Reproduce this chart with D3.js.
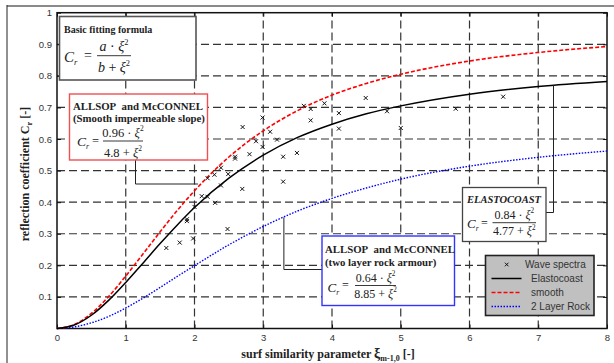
<!DOCTYPE html>
<html>
<head>
<meta charset="utf-8">
<script src="https://cdn.jsdelivr.net/npm/d3@7"></script>
<style>
  html, body { margin: 0; padding: 0; background: #fff; }
  svg { display: block; }
</style>
</head>
<body>
<div class="canvas"></div>
<script>
// Chart values
const xTicks = [0, 1, 2, 3, 4, 5, 6, 7, 8];
const yTicks = [0.1, 0.2, 0.3, 0.4, 0.5, 0.6, 0.7, 0.8, 0.9, 1];
const yTickLabels = ["0.1", "0.2", "0.3", "0.4", "0.5", "0.6", "0.7", "0.8", "0.9", "1"];

const curveX = [0, 0.25, 0.5, 0.75, 1, 1.25, 1.5, 1.75, 2, 2.5, 3, 3.5, 4, 4.5, 5, 6, 7, 8];
const elastocoast = [0, 0.011, 0.042, 0.089, 0.146, 0.207, 0.269, 0.328, 0.383, 0.476, 0.549, 0.605, 0.647, 0.680, 0.705, 0.742, 0.766, 0.782];
const smooth = [0, 0.012, 0.048, 0.101, 0.166, 0.236, 0.306, 0.374, 0.436, 0.543, 0.626, 0.690, 0.739, 0.776, 0.805, 0.847, 0.874, 0.893];
const rock = [0, 0.005, 0.018, 0.038, 0.065, 0.096, 0.130, 0.165, 0.199, 0.265, 0.323, 0.372, 0.412, 0.445, 0.473, 0.514, 0.542, 0.562];

const spectraX = [1.59, 1.785, 1.98, 1.89, 1.89, 2.0, 2.105, 2.19, 2.30, 2.19, 2.29, 2.385, 2.49, 2.385, 2.48,
                  2.695, 2.59, 2.59, 2.80, 2.70, 2.895, 2.99, 2.99, 3.10, 3.20, 3.29, 3.49, 3.29, 3.59, 3.69,
                  3.69, 3.89, 4.10, 4.10, 4.49, 4.80, 5.0, 5.80, 6.49];
const spectraY = [0.255, 0.272, 0.285, 0.346, 0.340, 0.385, 0.419, 0.417, 0.398, 0.476, 0.487, 0.509, 0.489, 0.453, 0.315,
                  0.442, 0.544, 0.538, 0.552, 0.638, 0.593, 0.575, 0.668, 0.623, 0.598, 0.544, 0.556, 0.465, 0.705, 0.695,
                  0.659, 0.713, 0.682, 0.633, 0.730, 0.688, 0.635, 0.696, 0.734];

const legendLabels = ["Wave spectra", "Elastocoast", "smooth", "2 Layer Rock"];

// Setup
const width = 614, height = 363;
const margin = { top: 12.7, right: 7, bottom: 34.5, left: 57 };
const svg = d3.select(".canvas").append("svg")
    .attr("width", width)
    .attr("height", height);

const serif = "'Liberation Serif', 'Times New Roman', serif";
const sans = "'Liberation Sans', Arial, sans-serif";

// figure frame
svg.append("line").attr("x1", 7).attr("x2", 614).attr("y1", 6).attr("y2", 6)
    .attr("stroke", "#8a8a8a").attr("stroke-width", 2);
svg.append("line").attr("x1", 7).attr("x2", 7).attr("y1", 5).attr("y2", 363)
    .attr("stroke", "#222").attr("stroke-width", 1);

const x = d3.scaleLinear().domain([0, 8]).range([margin.left, width - margin.right]);
const y = d3.scaleLinear().domain([0, 1]).range([height - margin.bottom, margin.top]);

// grid
const grid = svg.append("g").attr("stroke", "#333").attr("stroke-width", 1.2)
    .attr("stroke-dasharray", "8,4");
grid.selectAll(".gx").data(xTicks.slice(1, -1)).enter().append("line")
    .attr("x1", d => x(d)).attr("x2", d => x(d))
    .attr("y1", y(0)).attr("y2", y(1));
grid.selectAll(".gy").data(yTicks.slice(0, -1)).enter().append("line")
    .attr("x1", x(0)).attr("x2", x(8))
    .attr("y1", d => y(d)).attr("y2", d => y(d));

// axes
const xAxis = d3.axisBottom(x).tickValues(xTicks).tickSizeInner(-4).tickSizeOuter(0).tickPadding(6);
const yAxis = d3.axisLeft(y).tickValues(yTicks).tickSizeInner(-4).tickSizeOuter(0).tickPadding(5)
    .tickFormat((d, i) => yTickLabels[i]);
const xAxisGroup = svg.append("g").attr("transform", `translate(0, ${y(0)})`).call(xAxis);
const yAxisGroup = svg.append("g").attr("transform", `translate(${x(0)}, 0)`).call(yAxis);
svg.append("g").attr("transform", `translate(0, ${y(1)})`)
    .call(d3.axisTop(x).tickValues(xTicks).tickSizeInner(-4).tickSizeOuter(0).tickFormat(""));
svg.append("g").attr("transform", `translate(${x(8)}, 0)`)
    .call(d3.axisRight(y).tickValues(yTicks).tickSizeInner(-4).tickSizeOuter(0).tickFormat(""));
svg.selectAll(".domain").remove();
svg.selectAll(".tick line").attr("stroke", "#111");
svg.selectAll(".tick text").attr("font-family", sans).attr("font-size", 9.5).attr("fill", "#333");

// plot frame
svg.append("rect")
    .attr("x", x(0)).attr("y", y(1))
    .attr("width", x(8) - x(0)).attr("height", y(0) - y(1))
    .attr("fill", "none").attr("stroke", "#111").attr("stroke-width", 1.5);

// curves
const line = (vals) => d3.line()
    .x((d, i) => x(curveX[i]))
    .y(d => y(d))
    .curve(d3.curveMonotoneX)(vals);

const series = [
    { vals: rock, colour: "#0000ff", dash: "1.5,1.5", w: 1.4 },
    { vals: smooth, colour: "#ff0000", dash: "4,2", w: 1.6 },
    { vals: elastocoast, colour: "#000", dash: null, w: 1.5 }
];
series.forEach(s => {
    svg.append("path").attr("d", line(s.vals))
        .attr("fill", "none").attr("stroke", s.colour)
        .attr("stroke-width", s.w)
        .attr("stroke-dasharray", s.dash);
});

// wave spectra markers
const cross = (g, cx, cy, r) => {
    g.append("path")
        .attr("d", `M${cx - r},${cy - r}L${cx + r},${cy + r}M${cx - r},${cy + r}L${cx + r},${cy - r}`)
        .attr("stroke", "#111").attr("stroke-width", 1).attr("fill", "none");
};
const marks = svg.append("g");
spectraX.forEach((d, i) => cross(marks, x(d), y(spectraY[i]), 2));

// leader lines
const leader = svg.append("g").attr("fill", "none").attr("stroke", "#222").attr("stroke-width", 1);
leader.append("polyline").attr("points", `135.5,160 135.5,184 ${x(2.05)},184`);
leader.append("polyline").attr("points", `546,212.5 553.5,212.5 553.5,${y(0.770)}`);
leader.append("polyline").attr("points", `${x(3.3)},${y(0.352)} ${x(3.3)},269.5 322,269.5`);

// formula helper: C_r = num / den
const formula = (g, o) => {
    const fs = o.size;
    const c = g.append("text").attr("x", o.cx).attr("y", o.cy)
        .attr("font-family", serif).attr("font-size", fs + 1).attr("font-style", "italic").attr("fill", "#222");
    c.append("tspan").text("C");
    c.append("tspan").text("r").attr("font-size", fs * 0.62).attr("dy", 3);
    g.append("text").attr("x", o.eq).attr("y", o.ly + fs * 0.33)
        .attr("font-family", serif).attr("font-size", fs).attr("fill", "#222").text("=");
    const mid = (o.l1 + o.l2) / 2;
    const part = (lead, base) => {
        const t = g.append("text").attr("x", mid).attr("y", base)
            .attr("text-anchor", "middle").attr("font-family", serif)
            .attr("font-size", fs).attr("fill", "#222");
        t.append("tspan").text(lead).attr("font-style", lead.length < 3 ? "italic" : "normal");
        t.append("tspan").text(" \u00b7 ").attr("font-style", "normal");
        t.append("tspan").text("\u03be").attr("font-style", "italic");
        t.append("tspan").text("2").attr("font-size", fs * 0.6).attr("dy", -fs * 0.45);
        return t;
    };
    part(o.num, o.nb);
    const d = g.append("text").attr("x", mid).attr("y", o.db)
        .attr("text-anchor", "middle").attr("font-family", serif)
        .attr("font-size", fs).attr("fill", "#222");
    d.append("tspan").text(o.den).attr("font-style", o.den.length < 3 ? "italic" : "normal");
    d.append("tspan").text(" + ");
    d.append("tspan").text("\u03be").attr("font-style", "italic");
    d.append("tspan").text("2").attr("font-size", fs * 0.6).attr("dy", -fs * 0.45);
    g.append("line").attr("x1", o.l1).attr("x2", o.l2).attr("y1", o.ly).attr("y2", o.ly)
        .attr("stroke", "#222").attr("stroke-width", 0.9);
};

const boxText = (g, tx, ty, txt, size, italic) => {
    g.append("text").attr("x", tx).attr("y", ty)
        .attr("font-family", serif).attr("font-size", size).attr("font-weight", "bold")
        .attr("font-style", italic ? "italic" : "normal").attr("fill", "#222").text(txt);
};

// Basic fitting formula box
const b1 = svg.append("g");
b1.append("rect").attr("x", 59.5).attr("y", 16.5).attr("width", 136.5).attr("height", 63.5)
    .attr("fill", "#fff").attr("stroke", "#555").attr("stroke-width", 1.6);
boxText(b1, 64, 33, "Basic fitting formula", 10);
formula(b1, { cx: 64, cy: 62, eq: 84, l1: 97, l2: 131, ly: 55.7, nb: 51, db: 72, num: "a", den: "b", size: 14 });

// ALLSOP smooth box
const b2 = svg.append("g");
b2.append("rect").attr("x", 69.5).attr("y", 94).attr("width", 138).attr("height", 66)
    .attr("fill", "#fff").attr("stroke", "#f05050").attr("stroke-width", 1.4);
boxText(b2, 73, 109.5, "ALLSOP\u00a0 and McCONNEL", 10.8);
boxText(b2, 73, 122, "(Smooth impermeable slope)", 10.8);
formula(b2, { cx: 77, cy: 146, eq: 92, l1: 103, l2: 143, ly: 141, nb: 137, db: 156.5, num: "0.96", den: "4.8", size: 12.5 });

// ELASTOCOAST box
const b3 = svg.append("g");
b3.append("rect").attr("x", 462.5).attr("y", 187.5).attr("width", 83.5).attr("height", 54)
    .attr("fill", "#fff").attr("stroke", "#444").attr("stroke-width", 1.3);
boxText(b3, 504, 203, "ELASTOCOAST", 10.5, true);
b3.select("text").attr("text-anchor", "middle");
formula(b3, { cx: 467, cy: 228, eq: 481, l1: 492.5, l2: 536, ly: 222.7, nb: 218.5, db: 235, num: "0.84", den: "4.77", size: 12 });

// ALLSOP rock box
const b4 = svg.append("g");
b4.append("rect").attr("x", 322).attr("y", 236).attr("width", 132.5).attr("height", 69.5)
    .attr("fill", "#fff").attr("stroke", "#3333ff").attr("stroke-width", 1.4);
boxText(b4, 325, 252.5, "ALLSOP\u00a0 and McCONNEL", 10.8);
boxText(b4, 325, 265.5, "(two layer rock armour)", 10.8);
formula(b4, { cx: 327.5, cy: 292, eq: 342, l1: 355, l2: 396, ly: 285.5, nb: 281.5, db: 297.5, num: "0.64", den: "8.85", size: 12 });

// legend
const lg = svg.append("g");
lg.append("rect").attr("x", 485.5).attr("y", 255.5).attr("width", 108.5).attr("height", 60)
    .attr("fill", "#c0c0c0").attr("stroke", "#222").attr("stroke-width", 1.6);
const legY = [264.5, 278.5, 292.5, 306.5];
cross(lg, 506.7, legY[0], 1.8);
lg.append("line").attr("x1", 491.5).attr("x2", 521.5).attr("y1", legY[1]).attr("y2", legY[1])
    .attr("stroke", "#000").attr("stroke-width", 1.5);
lg.append("line").attr("x1", 491.5).attr("x2", 521.5).attr("y1", legY[2]).attr("y2", legY[2])
    .attr("stroke", "#ff0000").attr("stroke-width", 1.5).attr("stroke-dasharray", "4,2");
lg.append("line").attr("x1", 491.5).attr("x2", 521.5).attr("y1", legY[3]).attr("y2", legY[3])
    .attr("stroke", "#0000ff").attr("stroke-width", 1.5).attr("stroke-dasharray", "1.5,1.5");
lg.selectAll(".lt").data(legendLabels).enter().append("text")
    .attr("x", (d, i) => i === 0 ? 525 : 531)
    .attr("y", (d, i) => legY[i] + 3.6)
    .attr("font-family", sans).attr("font-size", 10).attr("fill", "#333")
    .text(d => d);

// axis titles
const yl = svg.append("text")
    .attr("transform", `translate(29, 174) rotate(-90)`)
    .attr("text-anchor", "middle")
    .attr("font-family", serif).attr("font-size", 12).attr("font-weight", "bold").attr("fill", "#222");
yl.append("tspan").text("reflection coefficient C");
yl.append("tspan").text("r").attr("font-size", 8.5).attr("dy", 3);
yl.append("tspan").text(" [-]").attr("dy", -3);

const xl = svg.append("text")
    .attr("x", 328).attr("y", 358)
    .attr("text-anchor", "middle")
    .attr("font-family", serif).attr("font-size", 12).attr("font-weight", "bold").attr("fill", "#222");
xl.append("tspan").text("surf similarity parameter ");
xl.append("tspan").text("\u03be").attr("font-size", 14);
xl.append("tspan").text("m-1,0").attr("font-size", 8).attr("dy", 3);
xl.append("tspan").text(" [-]").attr("dy", -3);
</script>
</body>
</html>
